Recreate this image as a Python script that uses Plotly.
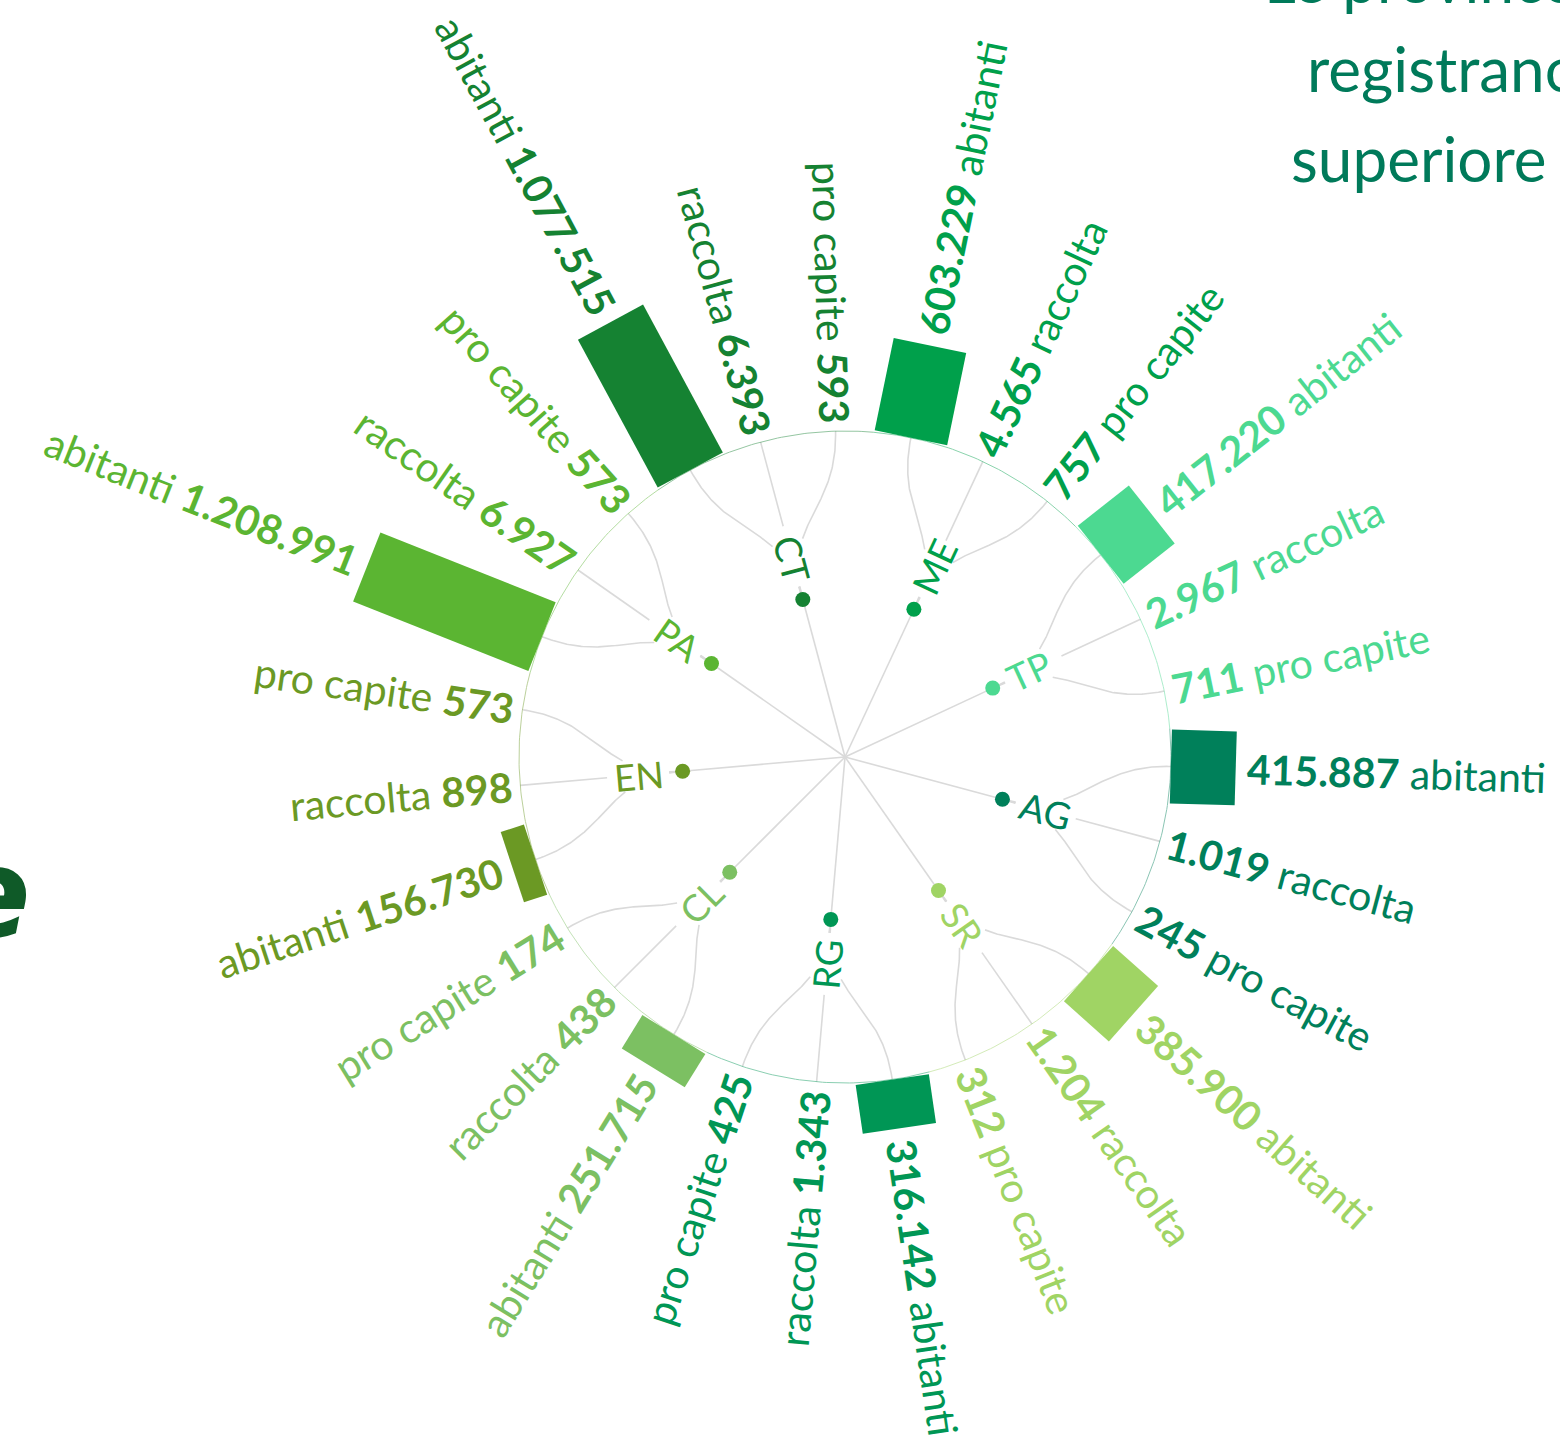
import numpy as np
import plotly.graph_objects as go

# ---------------- data ----------------
provinces = ["CT", "ME", "TP", "AG", "SR", "RG", "CL", "EN", "PA"]
abitanti = [1077515, 603229, 417220, 415887, 385900, 316142, 251715, 156730, 1208991]
raccolta = [6393, 4565, 2967, 1019, 1204, 1343, 438, 898, 6927]
pro_capite = [593, 757, 711, 245, 312, 425, 174, 573, 573]
leaf_labels = ["abitanti", "raccolta", "pro capite"]
colors = ["#158232", "#00a04b", "#4cd991", "#00805a", "#a0d464",
          "#009655", "#7cc062", "#6b9924", "#5bb532"]
title_lines = ["Le province", "registrano", "superiore"]

# ---------------- layout params ----------------
W, H = 1560, 1446
CX, CY = 845.0, 757.0
R_NODE, R_LEAF = 163.0, 326.0
FIRST_ANGLE, STEP = 345.0, 40.0
LEAF_STEP = STEP / 3.0
BAR_PX = 156e-6          # px per inhabitant
BAR_W = 74.0
FONT = "Lato"
LEAF_FS = 41
NODE_FS = 37
LINK_COL = "#dadada"
GAP = "\u00a0\u00a0"


def polar(b, r):
    a = np.radians(b)
    return CX + r * np.sin(a), CY - r * np.cos(a)


def fmt(v):
    return f"{v:,}".replace(",", ".")


def hidden(s):
    return '<span style="color:rgba(0,0,0,0)">' + s + '</span>'


def is_right(b):
    return 0 < (b % 360) < 180


def text_angle(b):
    b = b % 360
    th = b - 90 if is_right(b) else b - 270
    return th


fig = go.Figure()

# center -> province links
lx, ly = [], []
for i in range(len(provinces)):
    c = FIRST_ANGLE + i * STEP
    x1, y1 = polar(c, R_NODE)
    lx += [CX, x1, None]
    ly += [CY, y1, None]
fig.add_trace(go.Scatter(x=lx, y=ly, mode="lines", line=dict(color=LINK_COL, width=1.6),
                         hoverinfo="skip"))

# province -> leaf links (radial bezier)
t = np.linspace(0, 1, 120)
mid = (R_NODE + R_LEAF) / 2
lx, ly = [], []
for i in range(len(provinces)):
    c = FIRST_ANGLE + i * STEP
    u = np.array([np.sin(np.radians(c)), -np.cos(np.radians(c))])
    tv = np.array([np.cos(np.radians(c)), np.sin(np.radians(c))])
    for k in range(3):
        lb = c + (k - 1) * LEAF_STEP
        p0 = np.array(polar(c, R_NODE))
        p1 = np.array(polar(c, mid))
        p2 = np.array(polar(lb, mid))
        p3 = np.array(polar(lb, R_LEAF))
        pts = (np.outer((1 - t) ** 3, p0) + np.outer(3 * (1 - t) ** 2 * t, p1)
               + np.outer(3 * (1 - t) * t ** 2, p2) + np.outer(t ** 3, p3))
        rel = pts - np.array([CX, CY])
        along = rel @ u
        perp = np.abs(rel @ tv)
        hide = (along > 177) & (along < 238) & (perp < 15)
        for (x, y), h in zip(pts, hide):
            if h:
                lx.append(None); ly.append(None)
            else:
                lx.append(x); ly.append(y)
        lx.append(None); ly.append(None)
fig.add_trace(go.Scatter(x=lx, y=ly, mode="lines", line=dict(color=LINK_COL, width=1.6),
                         hoverinfo="skip", connectgaps=False))

# faint arcs on the leaf circle
for i in range(len(provinces)):
    c = FIRST_ANGLE + i * STEP
    angs = np.linspace(c - STEP / 2, c + STEP / 2, 60)
    ax_, ay_ = polar(angs, R_LEAF)
    fig.add_trace(go.Scatter(x=ax_, y=ay_, mode="lines", opacity=0.45,
                             line=dict(color=colors[i], width=1.0), hoverinfo="skip"))

# abitanti bars (radial rectangles)
for i in range(len(provinces)):
    c = FIRST_ANGLE + i * STEP
    b = c - LEAF_STEP
    L = abitanti[i] * BAR_PX
    u = np.array([np.sin(np.radians(b)), -np.cos(np.radians(b))])
    tv = np.array([np.cos(np.radians(b)), np.sin(np.radians(b))])
    base = np.array(polar(b, R_LEAF))
    corners = [base - tv * BAR_W / 2, base + tv * BAR_W / 2,
               base + tv * BAR_W / 2 + u * L, base - tv * BAR_W / 2 + u * L,
               base - tv * BAR_W / 2]
    fig.add_trace(go.Scatter(x=[p[0] for p in corners], y=[p[1] for p in corners],
                             mode="lines", fill="toself", fillcolor=colors[i],
                             line=dict(width=0, color=colors[i]), hoverinfo="skip"))

# province dots
nx, ny = [], []
for i in range(len(provinces)):
    x, y = polar(FIRST_ANGLE + i * STEP, R_NODE)
    nx.append(x); ny.append(y)
fig.add_trace(go.Scatter(x=nx, y=ny, mode="markers",
                         marker=dict(size=15, color=colors, line=dict(width=0)),
                         hoverinfo="skip"))

annotations = []


def radial_label(b, r, s, size, color):
    if is_right(b):
        txt = hidden(s) + GAP + s
    else:
        txt = s + GAP + hidden(s)
    x, y = polar(b, r)
    annotations.append(dict(x=x, y=y, xref="x", yref="y", text=txt, showarrow=False,
                            textangle=text_angle(b), xanchor="center", yanchor="middle",
                            font=dict(family=FONT, size=size, color=color)))


for i, p in enumerate(provinces):
    c = FIRST_ANGLE + i * STEP
    radial_label(c, R_NODE + 10, p, NODE_FS, colors[i])
    vals = [abitanti[i], raccolta[i], pro_capite[i]]
    for k in range(3):
        lb = c + (k - 1) * LEAF_STEP
        if is_right(lb):
            s = "<b>" + fmt(vals[k]) + "</b> " + leaf_labels[k]
        else:
            s = leaf_labels[k] + " <b>" + fmt(vals[k]) + "</b>"
        r = R_LEAF + abitanti[i] * BAR_PX + 1 if k == 0 else R_LEAF - 2
        radial_label(lb, r, s, LEAF_FS, colors[i])

# title fragments (cut by the right edge)
title_x = [1262, 1305, 1289]
title_base = [3, 92, 182]
for s, x, yb in zip(title_lines, title_x, title_base):
    annotations.append(dict(x=x / W, y=1 - (yb - 24) / H, xref="paper", yref="paper",
                            text=s, showarrow=False, xanchor="left", yanchor="middle",
                            font=dict(family=FONT, size=62, color="#007a5a")))

# big script letter cut by the left edge
annotations.append(dict(x=33 / W, y=1 - 893 / H, xref="paper", yref="paper",
                        text="<b><i>e</i></b>", showarrow=False, xanchor="right",
                        yanchor="middle",
                        font=dict(family="DejaVu Sans", size=125, color="#0f5a28")))

fig.update_layout(
    width=W, height=H, margin=dict(l=0, r=0, t=0, b=0),
    paper_bgcolor="white", plot_bgcolor="white", showlegend=False,
    xaxis=dict(range=[0, W], visible=False, fixedrange=True),
    yaxis=dict(range=[H, 0], visible=False, fixedrange=True),
    annotations=annotations,
)

fig.write_html("out.html", config={"displayModeBar": False},
               post_script="document.body.style.margin='0px';document.body.style.overflow='hidden';")
